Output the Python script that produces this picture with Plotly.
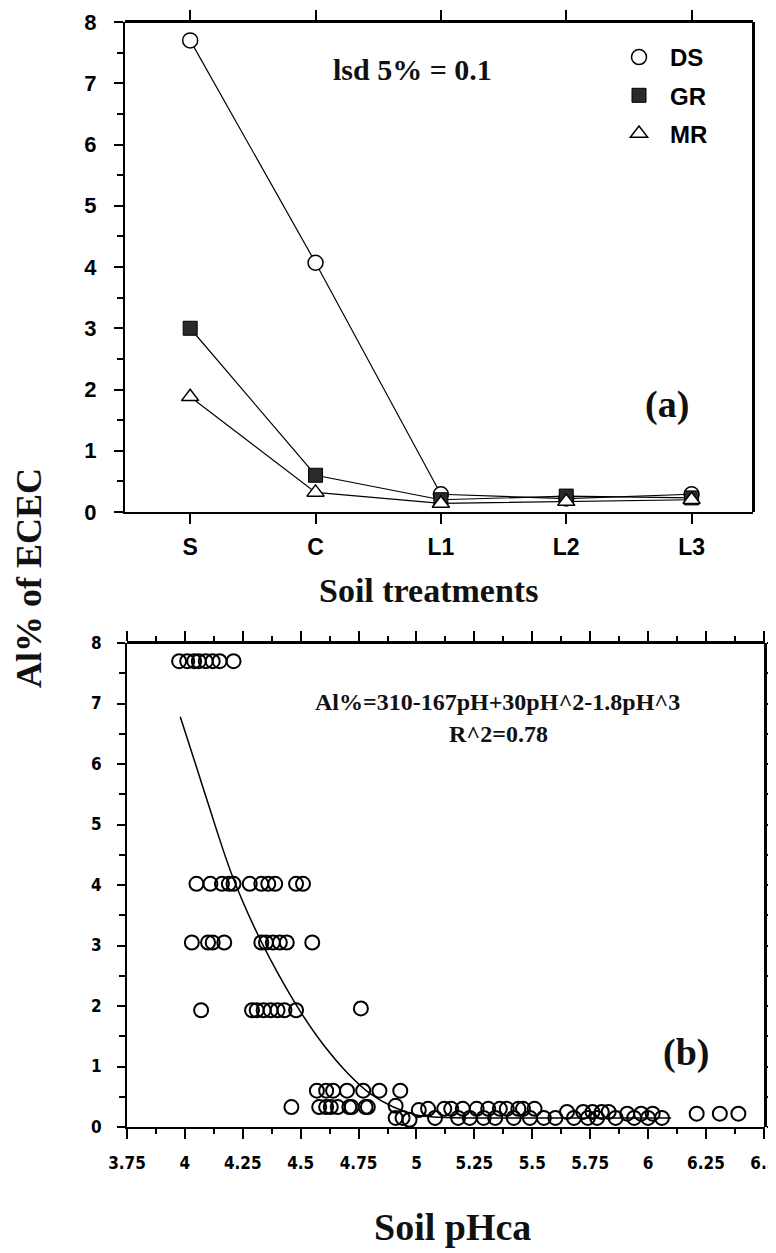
import plotly.graph_objects as go

W, H = 776, 1253
OFF = 8  # page offset of the figure inside the browser page

# ---------------- Panel (a) data ----------------
treatments = ["S", "C", "L1", "L2", "L3"]
ds_vals = [7.7, 4.07, 0.29, 0.22, 0.29]
gr_vals = [3.0, 0.6, 0.2, 0.26, 0.23]
mr_vals = [1.88, 0.32, 0.14, 0.17, 0.2]

# ---------------- Panel (b) data ----------------
ph_pts = [
    3.975, 4.01, 4.04, 4.06, 4.09, 4.12, 4.15, 4.21,
    4.05, 4.11, 4.16, 4.19, 4.21, 4.28, 4.33, 4.36, 4.39, 4.48, 4.51,
    4.03, 4.10, 4.12, 4.17, 4.33, 4.35, 4.38, 4.41, 4.44, 4.55,
    4.07, 4.29, 4.31, 4.34, 4.37, 4.40, 4.43, 4.48, 4.76,
    4.57, 4.61, 4.64, 4.70, 4.77, 4.84, 4.93,
    4.46, 4.58, 4.61, 4.63, 4.66, 4.71, 4.72, 4.78, 4.79,
    4.91, 4.91, 4.94, 4.97, 5.01,
    5.05, 5.12, 5.15, 5.20, 5.26, 5.31, 5.36, 5.39, 5.44, 5.46, 5.51,
    5.65, 5.72, 5.76, 5.80, 5.83, 5.91, 5.97, 6.02, 6.21, 6.31, 6.39,
    5.08, 5.18, 5.23, 5.29, 5.34, 5.42, 5.49, 5.55, 5.60, 5.68, 5.74,
    5.78, 5.86, 5.94, 6.00, 6.06,
]
al_pts = [
    7.7, 7.7, 7.7, 7.7, 7.7, 7.7, 7.7, 7.7,
    4.02, 4.02, 4.02, 4.02, 4.02, 4.02, 4.02, 4.02, 4.02, 4.02, 4.02,
    3.05, 3.05, 3.05, 3.05, 3.05, 3.05, 3.05, 3.05, 3.05, 3.05,
    1.93, 1.93, 1.93, 1.93, 1.93, 1.93, 1.93, 1.93, 1.96,
    0.6, 0.6, 0.6, 0.6, 0.6, 0.6, 0.6,
    0.33, 0.33, 0.33, 0.33, 0.33, 0.33, 0.33, 0.33, 0.33,
    0.35, 0.15, 0.15, 0.12, 0.28,
    0.3, 0.3, 0.3, 0.3, 0.3, 0.3, 0.3, 0.3, 0.3, 0.3, 0.3,
    0.25, 0.25, 0.25, 0.25, 0.25, 0.22, 0.22, 0.22, 0.22, 0.22, 0.22,
    0.15, 0.15, 0.15, 0.15, 0.15, 0.15, 0.15, 0.15, 0.15, 0.15, 0.15,
    0.15, 0.15, 0.15, 0.15, 0.15,
]

fit_ph = [3.98, 4.05, 4.1, 4.2, 4.3, 4.4, 4.5, 4.6, 4.7, 4.8, 4.9, 5.0, 5.1, 5.3, 5.6, 6.1]
fit_al = [6.78, 5.95, 5.35, 4.2, 3.3, 2.55, 1.9, 1.35, 0.9, 0.55, 0.33, 0.2, 0.16, 0.15, 0.15, 0.15]

ph_tickvals = [3.75, 4.0, 4.25, 4.5, 4.75, 5.0, 5.25, 5.5, 5.75, 6.0, 6.25, 6.5]
ph_ticktext = ["3.75", "4", "4.25", "4.5", "4.75", "5", "5.25", "5.5", "5.75", "6", "6.25", "6.5"]
al_tickvals = [0, 1, 2, 3, 4, 5, 6, 7, 8]

SANS_B = dict(family="Liberation Sans, Arial, sans-serif", weight="bold", color="black")
NARROW_B = dict(family="Liberation Sans Narrow, DejaVu Sans Condensed, Arial Narrow, sans-serif",
                weight="bold", color="black")
SERIF_B = dict(family="Liberation Serif, Times New Roman, serif", weight="bold", color="#111")


def px_x(p):
    return (p - OFF) / W


def px_y(p):
    return 1 - (p - OFF) / H


A_DOM_X = [px_x(125), px_x(753)]
A_DOM_Y = [px_y(512), px_y(22)]
B_DOM_X = [px_x(127), px_x(765)]
B_DOM_Y = [px_y(1127), px_y(643)]
A_RANGE_X = [-0.52, 4.49]
B_RANGE_X = [3.75, 6.505]
AL_RANGE = [0, 8]

fig = go.Figure()

# panel (a) lines
series = [
    ("DS", ds_vals, dict(symbol="circle", size=15, color="white", line=dict(color="black", width=1.5))),
    ("GR", gr_vals, dict(symbol="square", size=14, color="#2a2a2a", line=dict(color="black", width=1))),
    ("MR", mr_vals, dict(symbol="triangle-up", size=15, color="white", line=dict(color="black", width=1.5))),
]
for name, vals, mk in series:
    fig.add_trace(go.Scatter(x=treatments, y=vals, mode="lines+markers", name=name,
                             line=dict(color="black", width=1.2), marker=mk,
                             showlegend=False, xaxis="x", yaxis="y"))
for name, vals, mk in series:
    fig.add_trace(go.Scatter(x=[None], y=[None], mode="markers", name=name, marker=mk,
                             legendgroup=name, showlegend=True, xaxis="x", yaxis="y"))

# panel (b)
fig.add_trace(go.Scatter(x=ph_pts, y=al_pts, mode="markers",
                         marker=dict(symbol="circle-open", size=14, color="black", line=dict(width=2)),
                         showlegend=False, xaxis="x2", yaxis="y2"))
fig.add_trace(go.Scatter(x=fit_ph, y=fit_al, mode="lines",
                         line=dict(color="black", width=1.5, shape="spline"),
                         showlegend=False, xaxis="x2", yaxis="y2"))

# empty traces creating the frame subplots (top / right edges)
for xa, ya in (("x3", "y3"), ("x4", "y4"), ("x5", "y5"), ("x6", "y6")):
    fig.add_trace(go.Scatter(x=[None], y=[None], showlegend=False, hoverinfo="skip",
                             xaxis=xa, yaxis=ya))

axis_common = dict(showline=True, linecolor="black", linewidth=2, showgrid=False, zeroline=False,
                   ticks="outside", tickcolor="black", tickwidth=2, automargin=False)
hidden = dict(visible=False, showgrid=False, zeroline=False, automargin=False)
EPS = 0.01

# ---- frame lines as paper-referenced shapes ----
LINE = dict(color="black", width=2)
shapes = []
for dx, dy in ((A_DOM_X, A_DOM_Y), (B_DOM_X, B_DOM_Y)):
    shapes.append(dict(type="line", xref="paper", yref="paper", x0=dx[0], x1=dx[1], y0=dy[1], y1=dy[1], line=LINE))
    shapes.append(dict(type="line", xref="paper", yref="paper", x0=dx[1], x1=dx[1], y0=dy[0], y1=dy[1], line=LINE))

fig.update_layout(
    width=W, height=H,
    margin=dict(l=0, r=0, t=0, b=0, pad=0, autoexpand=False),
    paper_bgcolor="white", plot_bgcolor="rgba(0,0,0,0)",
    shapes=shapes,
    # panel (a)
    xaxis=dict(axis_common, domain=A_DOM_X, anchor="y", type="category",
               categoryorder="array", categoryarray=treatments, range=A_RANGE_X,
               ticklen=10, tickfont=dict(SANS_B, size=23), ticklabelstandoff=3),
    yaxis=dict(axis_common, domain=A_DOM_Y, anchor="x", range=AL_RANGE, tickvals=al_tickvals,
               ticklen=9, tickfont=dict(SANS_B, size=22), ticklabelstandoff=13,
               minor=dict(dtick=0.5, ticks="outside", ticklen=6, tickwidth=2, tickcolor="black")),
    # panel (a) top edge with category ticks
    xaxis3=dict(axis_common, domain=A_DOM_X, anchor="y3", side="top", type="category",
                categoryorder="array", categoryarray=treatments, range=A_RANGE_X,
                ticklen=10, showticklabels=False),
    yaxis3=dict(hidden, domain=[A_DOM_Y[1] - EPS, A_DOM_Y[1]], anchor="x3", range=[0, 1]),
    # panel (a) right edge (no ticks)
    yaxis4=dict(axis_common, domain=A_DOM_Y, anchor="x4", side="right", range=AL_RANGE,
                ticks="", showticklabels=False),
    xaxis4=dict(hidden, domain=[A_DOM_X[1] - EPS, A_DOM_X[1]], anchor="y4", range=[0, 1]),
    # panel (b)
    xaxis2=dict(axis_common, domain=B_DOM_X, anchor="y2", range=B_RANGE_X,
                tickvals=ph_tickvals, ticktext=ph_ticktext, ticklen=10, ticklabeloverflow="allow",
                tickfont=dict(NARROW_B, size=17), ticklabelstandoff=10,
                minor=dict(dtick=0.125, tick0=3.75, ticks="outside", ticklen=5, tickwidth=2, tickcolor="black")),
    yaxis2=dict(axis_common, domain=B_DOM_Y, anchor="x2", range=AL_RANGE, tickvals=al_tickvals,
                ticklen=8, tickfont=dict(NARROW_B, size=17), ticklabelstandoff=12,
                minor=dict(dtick=0.5, ticks="outside", ticklen=6, tickwidth=2, tickcolor="black")),
    # panel (b) top edge with ticks
    xaxis5=dict(axis_common, domain=B_DOM_X, anchor="y5", side="top", range=B_RANGE_X,
                tickvals=ph_tickvals, ticklen=10, showticklabels=False,
                minor=dict(dtick=0.125, tick0=3.75, ticks="outside", ticklen=5, tickwidth=2, tickcolor="black")),
    yaxis5=dict(hidden, domain=[B_DOM_Y[1] - EPS, B_DOM_Y[1]], anchor="x5", range=[0, 1]),
    # panel (b) right edge with ticks every 0.5
    yaxis6=dict(axis_common, domain=B_DOM_Y, anchor="x6", side="right", range=AL_RANGE,
                dtick=0.5, tick0=0, ticklen=7, showticklabels=False),
    xaxis6=dict(hidden, domain=[B_DOM_X[1] - EPS, B_DOM_X[1]], anchor="y6", range=[0, 1]),
    legend=dict(x=px_x(608), y=px_y(35), xanchor="left", yanchor="top",
                font=dict(SANS_B, size=24), bgcolor="rgba(0,0,0,0)", itemwidth=52,
                tracegroupgap=4, traceorder="grouped"),
    annotations=[
        dict(text="lsd 5% = 0.1", x=px_x(412), y=px_y(70), font=dict(SERIF_B, size=30)),
        dict(text="(a)", x=px_x(667), y=px_y(405), font=dict(SERIF_B, size=38)),
        dict(text="Soil treatments", x=px_x(429), y=px_y(590), font=dict(SERIF_B, size=34)),
        dict(text="Al% of ECEC", x=px_x(29), y=px_y(578), textangle=-90, font=dict(SERIF_B, size=36)),
        dict(text="Al%=310-167pH+30pH^2-1.8pH^3", x=px_x(497), y=px_y(702), font=dict(SERIF_B, size=24)),
        dict(text="R^2=0.78", x=px_x(498), y=px_y(734), font=dict(SERIF_B, size=24)),
        dict(text="(b)", x=px_x(686), y=px_y(1052), font=dict(SERIF_B, size=38)),
        dict(text="Soil pHca", x=px_x(453), y=px_y(1227), font=dict(SERIF_B, size=38)),
    ],
)
for ann in fig.layout.annotations:
    ann.update(xref="paper", yref="paper", showarrow=False, xanchor="center", yanchor="middle")

fig.write_html("out.html")
